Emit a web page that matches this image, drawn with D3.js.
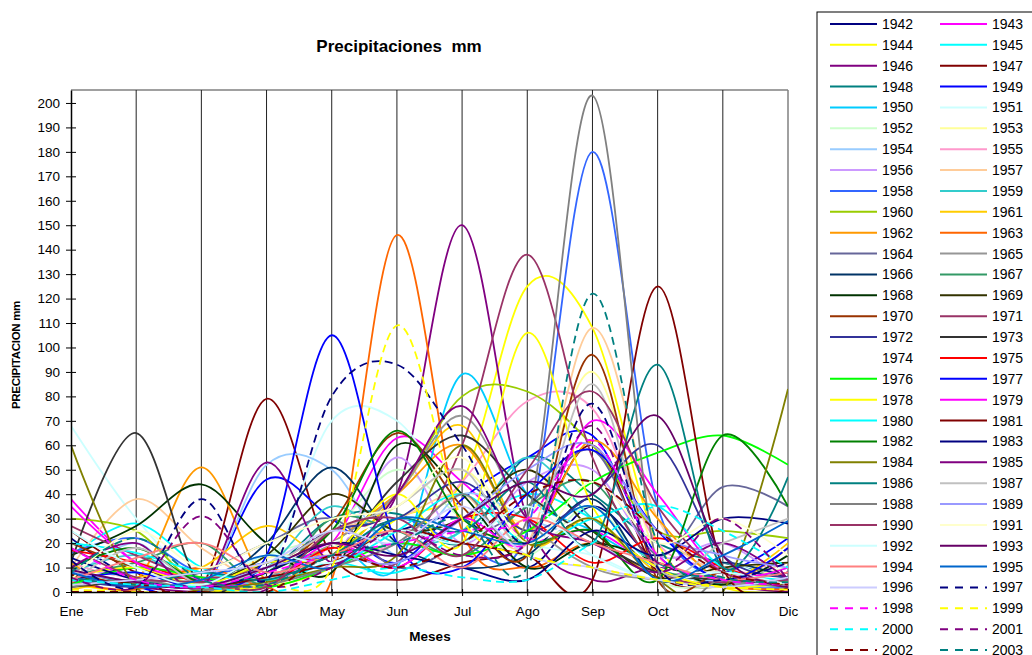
<!DOCTYPE html>
<html><head><meta charset="utf-8">
<script src="https://cdn.jsdelivr.net/npm/d3@7"></script>
<style>body{margin:0;background:#fff;} text{font-family:"Liberation Sans",Arial,sans-serif;}</style>
</head><body>
<svg id="c" width="1032" height="655"></svg>
<script>
const months = ["Ene","Feb","Mar","Abr","May","Jun","Jul","Ago","Sep","Oct","Nov","Dic"];
const years = [1942,1943,1944,1945,1946,1947,1948,1949,1950,1951,1952,1953,1954,1955,1956,1957,1958,1959,1960,1961,1962,1963,1964,1965,1966,1967,1968,1969,1970,1971,1972,1973,1974,1975,1976,1977,1978,1979,1980,1981,1982,1983,1984,1985,1986,1987,1988,1989,1990,1991,1992,1993,1994,1995,1996,1997,1998,1999,2000,2001,2002,2003];
const yTicks = [0,10,20,30,40,50,60,70,80,90,100,110,120,130,140,150,160,170,180,190,200];
const values = [
[22,5,2,10,18,25,30,10,35,12,4,8],
[38,12,3,5,20,63,45,22,25,10,5,3],
[3,0,0,2,10,30,45,125,108,20,2,0],
[15,28,10,3,12,8,25,40,30,12,5,10],
[5,2,0,1,25,40,150,30,5,10,3,0],
[25,8,2,79,15,5,12,20,60,8,2,4],
[10,3,5,8,30,32,20,55,40,20,12,6],
[6,2,1,46,30,12,38,55,64,15,8,22],
[3,8,1,5,20,10,89,40,25,10,3,2],
[68,30,5,8,70,70,35,20,15,5,12,2],
[2,12,3,15,25,50,30,15,35,5,2,3],
[8,22,6,14,18,35,50,30,90,15,6,10],
[5,20,2,52,50,15,40,30,20,8,4,1],
[12,5,10,3,15,20,45,78,75,20,10,5],
[4,10,1,6,12,55,20,45,50,15,20,3],
[10,38,18,5,25,30,40,20,108,30,8,12],
[16,22,8,12,15,30,20,25,180,35,5,2],
[8,15,4,10,35,20,25,55,30,12,5,2],
[30,25,3,12,15,40,80,82,60,25,25,22],
[1,6,10,27,15,40,68,20,30,8,3,20],
[12,5,51,5,20,40,60,25,62,30,5,18],
[4,1,10,2,5,146,25,10,20,6,2,1],
[6,3,8,20,30,10,20,35,58,15,43,35],
[10,4,2,6,20,40,72,30,10,5,3,5],
[3,10,2,20,51,20,10,15,38,5,12,6],
[7,12,20,3,30,25,15,35,45,10,8,4],
[15,27,44,20,8,60,40,10,20,12,3,15],
[2,4,3,15,40,25,30,50,25,6,10,12],
[20,10,5,8,28,65,35,15,97,5,8,3],
[27,15,6,10,20,12,60,138,55,10,4,8],
[5,2,4,10,25,30,45,25,40,60,15,6],
[12,65,2,12,15,45,64,40,22,8,5,3],
[9,5,3,10,20,30,25,20,30,10,8,5],
[17,12,4,3,18,10,30,30,12,22,10,3],
[3,10,6,2,10,20,15,25,45,57,64,52],
[5,8,2,15,105,20,10,40,58,25,5,18],
[6,10,3,12,15,40,20,106,35,10,2,4],
[35,12,5,3,20,10,30,20,70,40,8,10],
[20,16,8,5,10,25,40,20,30,35,10,5],
[7,3,2,6,12,25,20,15,5,125,10,2],
[10,18,4,8,25,66,30,20,25,5,64,35],
[14,5,2,8,20,15,10,5,25,15,30,28],
[60,2,1,4,10,15,60,20,30,5,0,83],
[10,20,2,53,12,40,76,30,20,8,20,5],
[6,3,8,5,15,30,25,45,20,93,10,47],
[4,18,3,10,25,35,50,20,85,10,20,30],
[2,5,1,3,10,20,40,30,203,10,5,2],
[8,4,2,10,15,12,30,50,60,25,15,10],
[18,6,4,2,25,30,15,50,82,35,8,5],
[5,25,10,20,30,35,55,20,45,20,30,15],
[25,10,3,15,12,25,20,35,15,5,8,3],
[9,4,2,10,20,15,30,45,40,72,15,2],
[5,14,20,8,15,25,10,30,20,12,5,8],
[8,2,5,15,10,30,25,20,35,5,15,29],
[3,5,8,12,25,20,35,15,10,5,2,6],
[13,2,38,5,80,93,60,20,77,10,5,12],
[18,5,2,8,15,20,25,30,62,15,5,3],
[1,0,0,3,10,109,30,15,10,5,2,1],
[5,3,2,0,5,10,6,5,20,35,25,10],
[6,2,31,3,10,25,15,20,68,12,30,5],
[0,0,0,0,15,10,20,40,45,25,8,3],
[8,22,5,3,15,20,30,10,122,20,6,4]
];
const colors = ["#000080","#FF00FF","#FFFF00","#00FFFF","#800080","#800000","#008080","#0000FF","#00CCFF","#CCFFFF","#CCFFCC","#FFFF99","#99CCFF","#FF99CC","#CC99FF","#FFCC99","#3366FF","#33CCCC","#99CC00","#FFCC00","#FF9900","#FF6600","#666699","#969696","#003366","#339966","#003300","#333300","#993300","#993366","#333399","#333333","#FFFFFF","#FF0000","#00FF00","#0000FF","#FFFF00","#FF00FF","#00FFFF","#800000","#008000","#000080","#808000","#800080","#008080","#C0C0C0","#808080","#9999FF","#993366","#FFFFCC","#CCFFFF","#660066","#FF8080","#0066CC","#CCCCFF","#000080","#FF00FF","#FFFF00","#00FFFF","#800080","#800000","#008080"];
const dashedFrom = 1997;

const svg = d3.select("#c");
const x0 = 71, x1 = 788, yTop = 90, yBot = 592;
const x = d3.scalePoint().domain(months).range([x0, x1]);
const y = d3.scaleLinear().domain([0, 205.3]).range([yBot, yTop]);

// plot border
svg.append("line").attr("x1",x0).attr("x2",x1).attr("y1",yTop).attr("y2",yTop).attr("stroke","#808080").attr("stroke-width",1.5);
svg.append("line").attr("x1",x1).attr("x2",x1).attr("y1",yTop).attr("y2",yBot).attr("stroke","#808080").attr("stroke-width",1.5);
// gridlines
svg.append("g").selectAll("line").data(months.slice(1,11)).join("line")
  .attr("x1",d=>x(d)).attr("x2",d=>x(d)).attr("y1",yTop).attr("y2",yBot)
  .attr("stroke","#222").attr("stroke-width",1);

svg.append("defs").append("clipPath").attr("id","clip").append("rect")
  .attr("x",x0).attr("y",yTop).attr("width",x1-x0).attr("height",yBot-yTop);

const line = d3.line().x((d,i)=>x(months[i])).y(d=>y(d)).curve(d3.curveCardinal.tension(0));
const g = svg.append("g").attr("clip-path","url(#clip)");
values.forEach((v,i)=>{
  g.append("path").attr("d",line(v)).attr("fill","none")
   .attr("stroke",colors[i]).attr("stroke-width",1.8)
   .attr("stroke-dasharray", years[i]>=dashedFrom ? "8,5" : null);
});

// axes
const ya = svg.append("g").attr("transform",`translate(${x0},0)`)
  .call(d3.axisLeft(y).tickValues(yTicks).tickSize(5).tickSizeOuter(0));
ya.select(".domain").attr("stroke","#000").attr("stroke-width",1.5);
ya.selectAll(".tick line").attr("x2",5).attr("x1",-5).attr("stroke","#000");
ya.selectAll(".tick text").attr("x",-11).attr("font-size",13.5).attr("fill","#000").attr("font-family","Liberation Sans, Arial");

const xa = svg.append("g").attr("transform",`translate(0,${yBot})`)
  .call(d3.axisBottom(x).tickSize(4).tickSizeOuter(0));
xa.select(".domain").attr("stroke","#000").attr("stroke-width",1.5);
xa.selectAll(".tick line").attr("y1",-3).attr("y2",4).attr("stroke","#000");
xa.selectAll(".tick text").attr("y",14).attr("font-size",13.5).attr("fill","#000").attr("font-family","Liberation Sans, Arial");

// titles
svg.append("text").attr("x",399).attr("y",52).attr("text-anchor","middle")
  .attr("font-size",17).attr("font-weight","bold")
  .text("Precipitaciones\u00A0\u00A0mm");
svg.append("text").attr("x",430).attr("y",641).attr("text-anchor","middle")
  .attr("font-size",13.5).attr("font-weight","bold").text("Meses");
svg.append("text").attr("transform","translate(20,355) rotate(-90)").attr("text-anchor","middle")
  .attr("font-size",11.5).attr("font-weight","bold").attr("letter-spacing","-0.3").text("PRECIPITACION mm");

// legend
svg.append("rect").attr("x",817).attr("y",12).attr("width",230).attr("height",680)
  .attr("fill","#fff").attr("stroke","#000").attr("stroke-width",1);
const lg = svg.append("g");
years.forEach((yr,i)=>{
  const col = i%2, row = Math.floor(i/2);
  const ly = 24 + row*20.87;
  const lx = col===0 ? 830 : 940;
  lg.append("line").attr("x1",lx).attr("x2",lx+47).attr("y1",ly).attr("y2",ly)
    .attr("stroke",colors[i]).attr("stroke-width",2)
    .attr("stroke-dasharray", yr>=dashedFrom ? "8,7" : null);
  lg.append("text").attr("x",lx+52).attr("y",ly+5).attr("font-size",14).text(yr);
});
</script>
</body></html>
